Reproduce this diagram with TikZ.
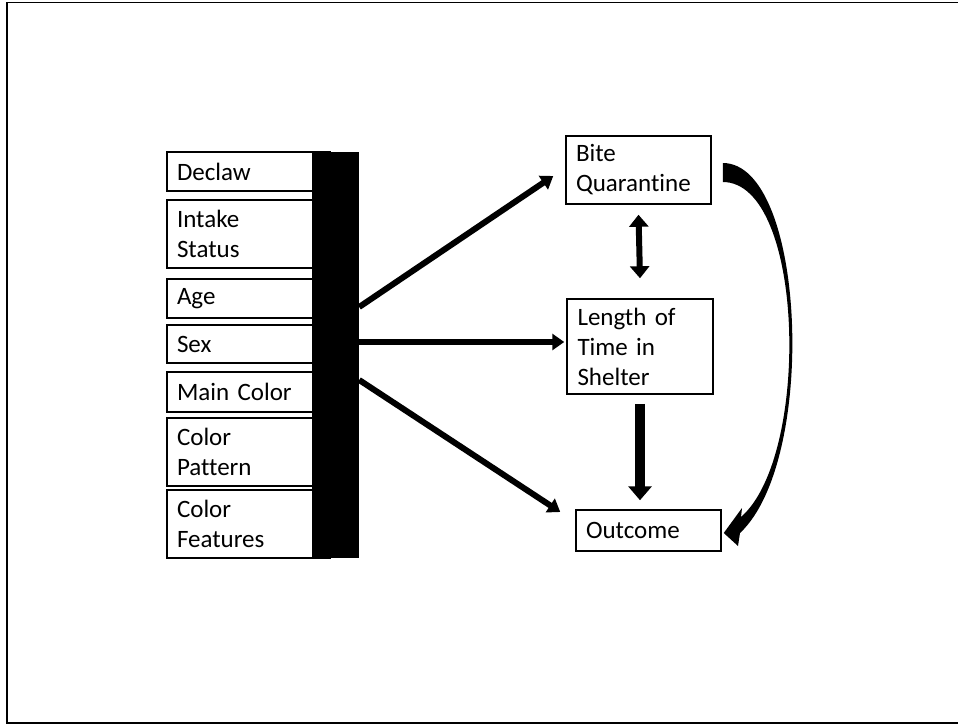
\documentclass[tikz,border=0pt]{standalone}
\usepackage{fontspec}
\setmainfont{Carlito}[Ligatures=NoCommon,WordSpace=0.7]
\usetikzlibrary{arrows.meta,calc}

\begin{document}
\begin{tikzpicture}[x=1pt,y=-1pt,
	lbox/.style={draw,line width=1.5pt,minimum width=163pt,text width=143pt,inner xsep=10pt,inner ysep=0pt,align=left,font=\fontsize{25}{30}\selectfont},
	rbox/.style={draw,line width=1.5pt,minimum width=145pt,text width=125pt,inner xsep=10pt,inner ysep=0pt,align=left,font=\fontsize{25}{30}\selectfont},
	fat/.style={line width=6pt,-{Triangle[length=12pt,width=16pt]}},
	]
	\useasboundingbox (0,0) rectangle (958,725);
	\draw[line width=1.5pt] (958,2.5) -- (7,2.5) -- (7,723) -- (958,723);

	% left column
	\node[lbox,minimum height=39pt] (declaw) at (248.5,171.5) {Declaw};
	\node[lbox,minimum height=68pt] (intake) at (248.5,234) {Intake\\Status};
	\node[lbox,minimum height=39pt] (age) at (248.5,298.5) {Age};
	\node[lbox,minimum height=38pt] (sex) at (248.5,344) {Sex};
	\node[lbox,minimum height=40pt] (maincol) at (248.5,392) {Main Color};
	\node[lbox,minimum height=68pt] (colpat) at (248.5,452) {Color\\Pattern};
	\node[lbox,minimum height=68pt] (colfeat) at (248.5,524) {Color\\Features};
	\node[fill,minimum width=47pt,minimum height=406pt,inner sep=0pt] (bar) at (335.5,355) {};

	% right column
	\node[rbox,minimum height=68pt] (bite) at (638.5,170) {Bite\\Quarantine};
	\node[rbox,minimum width=146pt,minimum height=95pt] (len) at (640,346.5) {Length of\\Time in\\Shelter};
	\node[rbox,minimum height=41pt] (out) at (648.5,530.5) {Outcome};

	% arrows
	\draw[fat] ([yshift=48pt]bar.east) -- ([xshift=-12pt,yshift=-6pt]bite.west);
	\draw[fat] ([yshift=13pt]bar.east) -- ([xshift=-2pt,yshift=4.5pt]len.west);
	\draw[fat] ([yshift=-25pt]bar.east) -- ([xshift=-15pt,yshift=18.5pt]out.west);
	\draw[line width=6pt,{Triangle[length=12pt,width=19pt]}-{Triangle[length=12pt,width=19pt]}] ([yshift=-10pt]bite.south) -- ([yshift=20pt]len.north);
	\draw[line width=9.5pt,-{Triangle[length=14pt,width=23pt]}] ([yshift=-9pt]len.south) -- ($(len.south |- out.north)+(0,-9)$);

	% curved arrow
	\coordinate (cs) at ($(bite.east)+(11,-7)$);
	\coordinate (ce) at ($(out.east)+(2,2.5)$);
	\fill (cs) .. controls (806,163) and (818,460) .. (740,533) -- (738,546) -- (ce) -- (742,508) -- (741,517)
		.. controls (811,456) and (805,182) .. ($(cs)+(0,19)$) -- cycle;
\end{tikzpicture}
\end{document}
